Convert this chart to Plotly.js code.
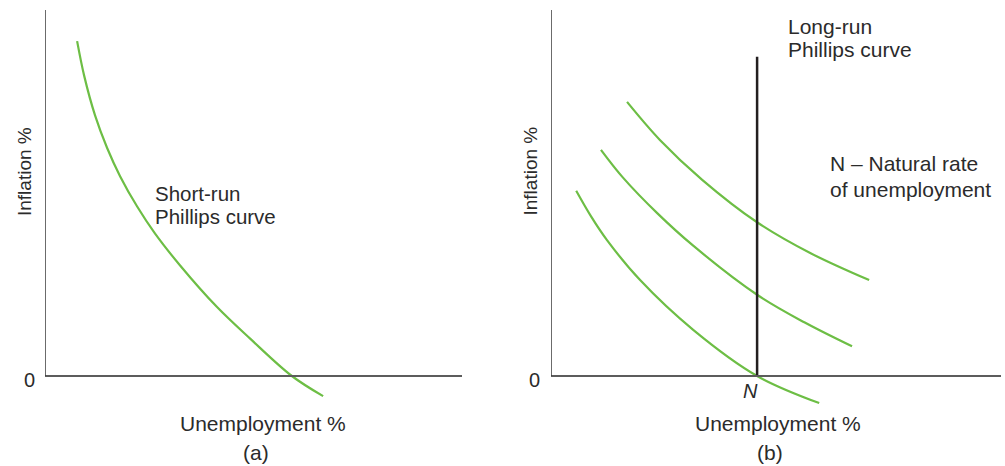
<!DOCTYPE html>
<html>
<head>
<meta charset="utf-8">
<script src="https://cdn.plot.ly/plotly-3.0.1.min.js"></script>
<style>html,body{margin:0;padding:0;background:#fff;}#chart{width:1005px;height:466px;}</style>
</head>
<body>
<div id="chart"></div>
<script>
// ---- Data ----
// Panel (a): short-run Phillips curve
const shortRunX = [0.77, 0.94, 1.20, 1.49, 1.80, 2.21, 2.64, 3.24, 4.12, 4.92, 5.92, 6.67];
const shortRunY = [9.15, 8.20, 7.12, 6.23, 5.46, 4.63, 3.89, 3.02, 1.89, 1.02, 0.00, -0.55];

// Panel (b): three short-run curves and the long-run curve at N
const lowCurveX = [0.56, 0.89, 1.24, 1.98, 3.16, 4.58, 5.96];
const lowCurveY = [5.06, 4.36, 3.72, 2.62, 1.26, 0.00, -0.74];
const midCurveX = [1.11, 1.60, 2.36, 3.16, 4.58, 5.64, 6.69];
const midCurveY = [6.18, 5.42, 4.45, 3.56, 2.22, 1.46, 0.81];
const highCurveX = [1.69, 2.42, 3.36, 4.58, 5.76, 7.07];
const highCurveY = [7.49, 6.45, 5.36, 4.20, 3.36, 2.62];
const naturalRate = 4.58;
const longRunTop = 8.72;

// Axis extents
const axisMaxX = 10;
const axisMaxY = 10;

// ---- Styling ----
const GREEN = '#6dbe45';
const TEXT = '#2b2b2b';
const FONT = 'Liberation Sans, Arial, sans-serif';
const W = 1005, H = 466;
const px = x => x / W;
const py = y => 1 - y / H;

function curve(x, y, xa, ya) {
  return {x: x, y: y, xaxis: xa, yaxis: ya, type: 'scatter', mode: 'lines',
    line: {color: GREEN, width: 2.2, shape: 'spline', smoothing: 1},
    hoverinfo: 'skip', showlegend: false};
}

const traces = [
  curve(shortRunX, shortRunY, 'x', 'y'),
  curve(lowCurveX, lowCurveY, 'x2', 'y2'),
  curve(midCurveX, midCurveY, 'x2', 'y2'),
  curve(highCurveX, highCurveY, 'x2', 'y2'),
  {x: [naturalRate, naturalRate], y: [0, longRunTop], xaxis: 'x2', yaxis: 'y2',
   type: 'scatter', mode: 'lines', line: {color: '#231f20', width: 2.5},
   hoverinfo: 'skip', showlegend: false}
];

function axisLines(xr, yr) {
  return [
    {type: 'line', xref: xr, yref: yr, x0: 0, x1: axisMaxX, y0: 0, y1: 0,
     line: {color: '#5c5c5c', width: 2}},
    {type: 'line', xref: xr, yref: yr, x0: 0, x1: 0, y0: 0, y1: axisMaxY,
     line: {color: '#3a3a3a', width: 1.5}}
  ];
}

function label(text, x, y, opts, size) {
  return Object.assign({text: text, xref: 'paper', yref: 'paper', x: px(x), y: py(y),
    showarrow: false, xanchor: 'center', yanchor: 'middle',
    font: {family: FONT, size: size || 21, color: TEXT}}, opts || {});
}

const annotations = [
  // panel (a)
  label('0', 29.5, 380, null, 20),
  label('Inflation %', 24.5, 171.5, {textangle: -90}, 19),
  label('Unemployment %', 263, 423),
  label('(a)', 256, 452),
  label('Short-run', 153, 193, {xanchor: 'left'}, 20.5),
  label('Phillips curve', 153, 216, {xanchor: 'left'}, 20.5),
  // panel (b)
  label('0', 534.5, 380, null, 20),
  label('Inflation %', 530, 171.5, {textangle: -90}, 19),
  label('<i>N</i>', 750, 391, null, 20),
  label('Unemployment %', 778, 423),
  label('(b)', 770, 452),
  label('Long-run', 786, 26, {xanchor: 'left'}),
  label('Phillips curve', 786, 50, {xanchor: 'left'}),
  label('N – Natural rate', 828, 163, {xanchor: 'left'}),
  label('of unemployment', 828, 189, {xanchor: 'left'})
];

const yDomain = [py(412.6), py(10)];
const hiddenAxis = {visible: false, showgrid: false, zeroline: false, fixedrange: true};

const layout = {
  width: W, height: H, autosize: false,
  margin: {l: 0, r: 0, t: 0, b: 0, pad: 0},
  paper_bgcolor: '#ffffff', plot_bgcolor: '#ffffff',
  showlegend: false,
  xaxis: Object.assign({}, hiddenAxis, {domain: [px(45), px(462)], range: [0, axisMaxX], anchor: 'y'}),
  yaxis: Object.assign({}, hiddenAxis, {domain: yDomain, range: [-1, axisMaxY], anchor: 'x'}),
  xaxis2: Object.assign({}, hiddenAxis, {domain: [px(551), px(1001)], range: [0, axisMaxX], anchor: 'y2'}),
  yaxis2: Object.assign({}, hiddenAxis, {domain: yDomain, range: [-1, axisMaxY], anchor: 'x2'}),
  shapes: axisLines('x', 'y').concat(axisLines('x2', 'y2')),
  annotations: annotations,
  font: {family: FONT, color: TEXT}
};

Plotly.newPlot('chart', traces, layout, {displayModeBar: false, staticPlot: true});
</script>
</body>
</html>
